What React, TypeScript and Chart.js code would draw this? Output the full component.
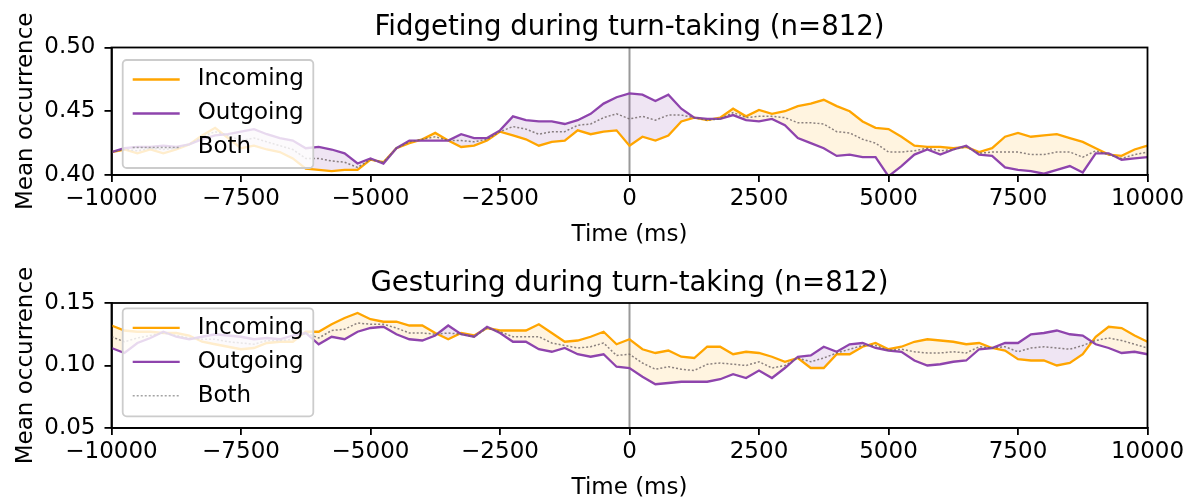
import React, { useEffect, useRef } from 'react';
import { Chart, registerables } from 'chart.js';

Chart.register(...registerables);

const FONT = "'DejaVu Sans', sans-serif";

// Time grid (ms)
const times = [
  -10000, -9750, -9500, -9250, -9000, -8750, -8500, -8250, -8000, -7750,
  -7500, -7250, -7000, -6750, -6500, -6250, -6000, -5750, -5500, -5250,
  -5000, -4750, -4500, -4250, -4000, -3750, -3500, -3250, -3000, -2750,
  -2500, -2250, -2000, -1750, -1500, -1250, -1000, -750, -500, -250,
  0, 250, 500, 750, 1000, 1250, 1500, 1750, 2000, 2250,
  2500, 2750, 3000, 3250, 3500, 3750, 4000, 4250, 4500, 4750,
  5000, 5250, 5500, 5750, 6000, 6250, 6500, 6750, 7000, 7250,
  7500, 7750, 8000, 8250, 8500, 8750, 9000, 9250, 9500, 9750,
  10000,
];

const xTickValues = [-10000, -7500, -5000, -2500, 0, 2500, 5000, 7500, 10000];
const fidgetYTicks = [0.4, 0.45, 0.5];
const gestYTicks = [0.05, 0.1, 0.15];

// Fidgeting
const fidgetIncoming = [
  0.418, 0.420, 0.417, 0.420, 0.417, 0.420, 0.424, 0.431, 0.437, 0.429,
  0.421, 0.423, 0.420, 0.418, 0.413, 0.405, 0.404, 0.403, 0.404, 0.404,
  0.412, 0.410, 0.421, 0.425, 0.428, 0.433, 0.427, 0.422, 0.423, 0.427,
  0.434, 0.431, 0.428, 0.423, 0.426, 0.427, 0.435, 0.432, 0.434, 0.435,
  0.423, 0.430, 0.427, 0.431, 0.442, 0.445, 0.443, 0.445, 0.452, 0.446,
  0.451, 0.448, 0.450, 0.454, 0.456, 0.459, 0.454, 0.450, 0.442, 0.437,
  0.436, 0.430, 0.423, 0.422, 0.422, 0.421, 0.422, 0.418, 0.421, 0.430,
  0.433, 0.430, 0.431, 0.432, 0.429, 0.426, 0.421, 0.416, 0.415, 0.420,
  0.423,
];
const fidgetOutgoing = [
  0.418, 0.421, 0.422, 0.422, 0.423, 0.422, 0.424, 0.428, 0.431, 0.432,
  0.434, 0.436, 0.432, 0.429, 0.427, 0.421, 0.422, 0.420, 0.417, 0.409,
  0.413, 0.409, 0.421, 0.427, 0.427, 0.427, 0.427, 0.432, 0.429, 0.429,
  0.435, 0.446, 0.443, 0.442, 0.442, 0.440, 0.443, 0.448, 0.456, 0.461,
  0.464, 0.463, 0.458, 0.463, 0.452, 0.445, 0.444, 0.444, 0.447, 0.443,
  0.442, 0.444, 0.439, 0.429, 0.425, 0.421, 0.415, 0.416, 0.414, 0.414,
  0.399, 0.407, 0.416, 0.420, 0.416, 0.420, 0.423, 0.416, 0.415, 0.406,
  0.404, 0.403, 0.401, 0.404, 0.407, 0.402, 0.417, 0.417, 0.412, 0.413,
  0.414,
];
const fidgetBoth = [
  0.418, 0.420, 0.419, 0.421, 0.420, 0.421, 0.424, 0.430, 0.434, 0.431,
  0.427, 0.429, 0.426, 0.423, 0.420, 0.413, 0.413, 0.411, 0.410, 0.406,
  0.412, 0.410, 0.421, 0.426, 0.428, 0.430, 0.427, 0.427, 0.426, 0.428,
  0.434, 0.438, 0.436, 0.432, 0.434, 0.434, 0.439, 0.440, 0.445, 0.448,
  0.444, 0.446, 0.443, 0.447, 0.447, 0.445, 0.443, 0.444, 0.449, 0.445,
  0.446, 0.446, 0.445, 0.441, 0.441, 0.440, 0.434, 0.433, 0.428, 0.425,
  0.418, 0.418, 0.419, 0.421, 0.419, 0.420, 0.422, 0.417, 0.418, 0.418,
  0.418, 0.416, 0.416, 0.418, 0.418, 0.414, 0.419, 0.416, 0.413, 0.416,
  0.418,
];

// Gesturing
const gestIncoming = [
  0.132, 0.128, 0.127, 0.127, 0.126, 0.126, 0.124, 0.119, 0.117, 0.115,
  0.113, 0.114, 0.118, 0.119, 0.119, 0.127, 0.127, 0.133, 0.138, 0.142,
  0.137, 0.135, 0.135, 0.132, 0.132, 0.126, 0.121, 0.126, 0.124, 0.130,
  0.128, 0.128, 0.128, 0.133, 0.126, 0.119, 0.120, 0.123, 0.127, 0.117,
  0.121, 0.113, 0.110, 0.112, 0.107, 0.106, 0.115, 0.115, 0.109, 0.111,
  0.110, 0.107, 0.103, 0.106, 0.098, 0.098, 0.109, 0.109, 0.115, 0.118,
  0.113, 0.115, 0.119, 0.121, 0.120, 0.119, 0.117, 0.118, 0.114, 0.112,
  0.105, 0.104, 0.104, 0.100, 0.102, 0.109, 0.123, 0.131, 0.130, 0.124,
  0.119,
];
const gestOutgoing = [
  0.114, 0.110, 0.118, 0.122, 0.127, 0.123, 0.121, 0.123, 0.125, 0.124,
  0.123, 0.121, 0.122, 0.121, 0.124, 0.126, 0.117, 0.123, 0.121, 0.127,
  0.130, 0.131, 0.125, 0.121, 0.120, 0.124, 0.132, 0.125, 0.123, 0.131,
  0.126, 0.119, 0.119, 0.113, 0.111, 0.114, 0.109, 0.107, 0.109, 0.099,
  0.098, 0.091, 0.085, 0.086, 0.087, 0.087, 0.087, 0.089, 0.093, 0.090,
  0.096, 0.090, 0.098, 0.107, 0.108, 0.115, 0.111, 0.117, 0.118, 0.114,
  0.112, 0.111, 0.104, 0.100, 0.101, 0.103, 0.104, 0.113, 0.114, 0.118,
  0.118, 0.125, 0.126, 0.128, 0.125, 0.124, 0.117, 0.114, 0.110, 0.111,
  0.109,
];
const gestBoth = [
  0.123, 0.119, 0.122, 0.124, 0.126, 0.124, 0.122, 0.121, 0.121, 0.119,
  0.118, 0.117, 0.120, 0.120, 0.121, 0.126, 0.122, 0.128, 0.129, 0.134,
  0.133, 0.133, 0.130, 0.126, 0.126, 0.125, 0.126, 0.125, 0.123, 0.130,
  0.127, 0.123, 0.123, 0.123, 0.118, 0.116, 0.114, 0.115, 0.118, 0.108,
  0.109, 0.102, 0.097, 0.099, 0.097, 0.096, 0.101, 0.102, 0.101, 0.100,
  0.103, 0.098, 0.100, 0.106, 0.103, 0.106, 0.110, 0.113, 0.116, 0.116,
  0.112, 0.113, 0.111, 0.110, 0.110, 0.111, 0.110, 0.115, 0.114, 0.115,
  0.111, 0.114, 0.115, 0.114, 0.113, 0.116, 0.120, 0.122, 0.120, 0.117,
  0.114,
];

const INCOMING = '#ffa500';
const OUTGOING = '#8e44ad';
const BOTH = 'rgba(110,100,100,0.8)';
const INCOMING_FILL = 'rgba(255,165,0,0.12)';
const OUTGOING_FILL = 'rgba(142,68,173,0.14)';

const fmtX = (v: number) => (v < 0 ? '\u2212' + Math.abs(v) : String(v));

type Panel = {
  title: string;
  inc: number[];
  out: number[];
  both: number[];
  yTicks: number[];
  canvasH: number;
  areaTop: number;
  areaBottom: number;
  legendOffset: number;
};

function pts(values: number[]) {
  return times.map((t, i) => ({ x: t, y: values[i] }));
}

function decoPlugin(p: Panel) {
  return {
    id: 'deco',
    afterDraw(chart: any) {
      const ctx = chart.ctx as CanvasRenderingContext2D;
      const a = chart.chartArea;
      ctx.save();
      // spines
      ctx.strokeStyle = '#000';
      ctx.lineWidth = 1.8;
      ctx.strokeRect(a.left, a.top, a.right - a.left, a.bottom - a.top);
      // title
      ctx.fillStyle = '#000';
      ctx.textAlign = 'center';
      ctx.textBaseline = 'alphabetic';
      ctx.font = `27.6px ${FONT}`;
      ctx.fillText(p.title, (a.left + a.right) / 2, a.top - 12.5);
      // axis titles
      ctx.font = `23px ${FONT}`;
      ctx.fillText('Time (ms)', (a.left + a.right) / 2, a.bottom + 65.5);
      ctx.save();
      ctx.translate(32, (a.top + a.bottom) / 2);
      ctx.rotate(-Math.PI / 2);
      ctx.fillText('Mean occurrence', 0, 0);
      ctx.restore();
      // legend
      const lx = a.left + 11.2;
      const ly = a.top + p.legendOffset;
      const lw = 190.6;
      const lh = 108;
      const r = 4;
      ctx.beginPath();
      ctx.moveTo(lx + r, ly);
      ctx.lineTo(lx + lw - r, ly);
      ctx.arcTo(lx + lw, ly, lx + lw, ly + r, r);
      ctx.lineTo(lx + lw, ly + lh - r);
      ctx.arcTo(lx + lw, ly + lh, lx + lw - r, ly + lh, r);
      ctx.lineTo(lx + r, ly + lh);
      ctx.arcTo(lx, ly + lh, lx, ly + lh - r, r);
      ctx.lineTo(lx, ly + r);
      ctx.arcTo(lx, ly, lx + r, ly, r);
      ctx.closePath();
      ctx.fillStyle = 'rgba(255,255,255,0.8)';
      ctx.fill();
      ctx.strokeStyle = '#cccccc';
      ctx.lineWidth = 1.8;
      ctx.stroke();
      const entries = [
        { label: 'Incoming', color: INCOMING, dash: [] as number[], w: 2.3 },
        { label: 'Outgoing', color: OUTGOING, dash: [] as number[], w: 2.3 },
        { label: 'Both', color: 'rgba(140,140,140,0.8)', dash: [2, 2], w: 1.5 },
      ];
      entries.forEach((e, i) => {
        const cy = ly + 19.5 + 34 * i;
        ctx.beginPath();
        ctx.setLineDash(e.dash);
        ctx.strokeStyle = e.color;
        ctx.lineWidth = e.w;
        ctx.moveTo(lx + 10, cy);
        ctx.lineTo(lx + 57, cy);
        ctx.stroke();
        ctx.setLineDash([]);
        ctx.fillStyle = '#000';
        ctx.textAlign = 'left';
        ctx.textBaseline = 'middle';
        ctx.font = `23px ${FONT}`;
        ctx.fillText(e.label, lx + 75, cy);
      });
      ctx.restore();
    },
  };
}

function makeConfig(p: Panel): any {
  const yMin = p.yTicks[0];
  const yMax = p.yTicks[p.yTicks.length - 1];
  const tickFont = { size: 23, family: FONT };
  const grid = {
    display: true,
    drawOnChartArea: false,
    drawTicks: true,
    tickLength: 7,
    tickWidth: 1.8,
    tickColor: '#000',
    color: '#000',
    lineWidth: 1.8,
  };
  return {
    type: 'line',
    data: {
      datasets: [
        {
          label: 'Incoming',
          data: pts(p.inc),
          borderColor: INCOMING,
          borderWidth: 2.3,
          pointRadius: 0,
          tension: 0,
          clip: 0,
          order: 3,
          fill: { target: 1, above: INCOMING_FILL, below: OUTGOING_FILL },
        },
        {
          label: 'Outgoing',
          data: pts(p.out),
          borderColor: OUTGOING,
          borderWidth: 2.3,
          pointRadius: 0,
          tension: 0,
          clip: 0,
          order: 2,
          fill: false,
        },
        {
          label: 'Both',
          data: pts(p.both),
          borderColor: BOTH,
          borderWidth: 1.5,
          borderDash: [2, 2],
          pointRadius: 0,
          tension: 0,
          clip: 0,
          order: 1,
          fill: false,
        },
        {
          label: 'zero',
          data: [
            { x: 0, y: yMin },
            { x: 0, y: yMax },
          ],
          borderColor: 'rgba(128,128,128,0.8)',
          borderWidth: 2,
          pointRadius: 0,
          clip: 0,
          order: 4,
          fill: false,
        },
      ],
    },
    options: {
      responsive: false,
      animation: false,
      devicePixelRatio: 1,
      layout: { padding: { top: p.areaTop, right: 43.5, bottom: 0, left: 0 } },
      plugins: {
        legend: { display: false },
        tooltip: { enabled: false },
        title: { display: false },
      },
      scales: {
        x: {
          type: 'linear',
          min: -10000,
          max: 10000,
          afterBuildTicks: (s: any) => {
            s.ticks = xTickValues.map((v) => ({ value: v }));
          },
          afterFit: (s: any) => {
            s.height = p.canvasH - p.areaBottom;
          },
          ticks: {
            autoSkip: false,
            maxRotation: 0,
            minRotation: 0,
            padding: 3,
            color: '#000',
            font: tickFont,
            callback: (v: number) => fmtX(v),
          },
          grid,
          border: { display: true, color: '#000', width: 1.8 },
        },
        y: {
          type: 'linear',
          min: yMin,
          max: yMax,
          afterBuildTicks: (s: any) => {
            s.ticks = p.yTicks.map((v) => ({ value: v }));
          },
          afterFit: (s: any) => {
            s.width = 111.5;
          },
          ticks: {
            padding: 9,
            color: '#000',
            font: tickFont,
            callback: (v: number) => Number(v).toFixed(2),
          },
          grid,
          border: { display: true, color: '#000', width: 1.8 },
        },
      },
    },
    plugins: [decoPlugin(p)],
  };
}

export default function App() {
  const topRef = useRef<HTMLCanvasElement>(null);
  const botRef = useRef<HTMLCanvasElement>(null);

  useEffect(() => {
    Chart.defaults.font.family = FONT;
    Chart.defaults.color = '#000';
    const c1 = new Chart(
      topRef.current as HTMLCanvasElement,
      makeConfig({
        title: 'Fidgeting during turn-taking (n=812)',
        inc: fidgetIncoming,
        out: fidgetOutgoing,
        both: fidgetBoth,
        yTicks: fidgetYTicks,
        canvasH: 250,
        areaTop: 47.5,
        areaBottom: 175,
        legendOffset: 12.5,
      })
    );
    const c2 = new Chart(
      botRef.current as HTMLCanvasElement,
      makeConfig({
        title: 'Gesturing during turn-taking (n=812)',
        inc: gestIncoming,
        out: gestOutgoing,
        both: gestBoth,
        yTicks: gestYTicks,
        canvasH: 249,
        areaTop: 53,
        areaBottom: 178,
        legendOffset: 5.3,
      })
    );
    return () => {
      c1.destroy();
      c2.destroy();
    };
  }, []);

  return (
    <div style={{ position: 'absolute', left: 0, top: 0, width: 1191, height: 499, background: '#fff' }}>
      <canvas
        ref={topRef}
        width={1191}
        height={250}
        style={{ position: 'absolute', left: 0, top: 0, width: 1191, height: 250 }}
      />
      <canvas
        ref={botRef}
        width={1191}
        height={249}
        style={{ position: 'absolute', left: 0, top: 250, width: 1191, height: 249 }}
      />
    </div>
  );
}
